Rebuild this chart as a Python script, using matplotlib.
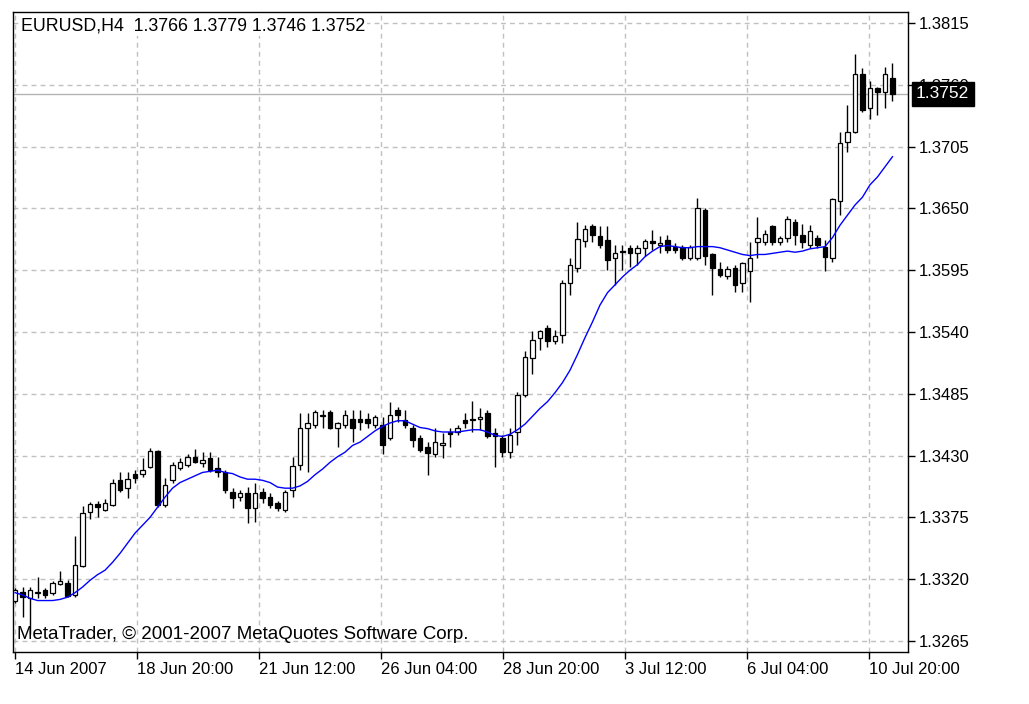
import numpy as np
import matplotlib
matplotlib.use("Agg")
import matplotlib.pyplot as plt

plt.rcParams["font.family"] = ["Liberation Sans", "DejaVu Sans"]

symbol = "EURUSD,H4"

open_ = [1.3301, 1.3309, 1.3303, 1.3308, 1.3310, 1.3308, 1.3316, 1.3317, 1.3306, 1.3332,
         1.3380, 1.3387, 1.3382, 1.3386, 1.3408, 1.3401, 1.3414, 1.3414, 1.3420, 1.3434,
         1.3386, 1.3408, 1.3419, 1.3422, 1.3429, 1.3423, 1.3428, 1.3419, 1.3415, 1.3398,
         1.3393, 1.3397, 1.3383, 1.3398, 1.3393, 1.3388, 1.3382, 1.3399, 1.3422, 1.3455,
         1.3457, 1.3465, 1.3469, 1.3455, 1.3457, 1.3463, 1.3463, 1.3463, 1.3457, 1.3457,
         1.3446, 1.3471, 1.3462, 1.3455, 1.3446, 1.3438, 1.3431, 1.3439, 1.3451, 1.3451,
         1.3462, 1.3462, 1.3463, 1.3468, 1.3450, 1.3446, 1.3433, 1.3451, 1.3484, 1.3517,
         1.3535, 1.3544, 1.3532, 1.3537, 1.3584, 1.3597, 1.3621, 1.3634, 1.3625, 1.3622,
         1.3606, 1.3611, 1.3615, 1.3610, 1.3615, 1.3621, 1.3617, 1.3622, 1.3616, 1.3616,
         1.3606, 1.3606, 1.3649, 1.3609, 1.3596, 1.3590, 1.3597, 1.3584, 1.3594, 1.3620,
         1.3620, 1.3634, 1.3620, 1.3624, 1.3638, 1.3626, 1.3617, 1.3624, 1.3616, 1.3606,
         1.3657, 1.3709, 1.3718, 1.3770, 1.3739, 1.3757, 1.3754, 1.3766]

high = [1.3312, 1.3313, 1.3313, 1.3322, 1.3312, 1.3318, 1.3327, 1.3319, 1.3358, 1.3385,
        1.3389, 1.3390, 1.3391, 1.3409, 1.3415, 1.3415, 1.3417, 1.3428, 1.3437, 1.3435,
        1.3410, 1.3424, 1.3428, 1.3431, 1.3436, 1.3433, 1.3433, 1.3429, 1.3417, 1.3401,
        1.3399, 1.3402, 1.3406, 1.3401, 1.3397, 1.3390, 1.3399, 1.3429, 1.3468, 1.3468,
        1.3471, 1.3471, 1.3471, 1.3460, 1.3471, 1.3471, 1.3471, 1.3468, 1.3466, 1.3464,
        1.3478, 1.3473, 1.3471, 1.3457, 1.3448, 1.3442, 1.3455, 1.3450, 1.3455, 1.3457,
        1.3468, 1.3479, 1.3472, 1.3471, 1.3455, 1.3448, 1.3455, 1.3487, 1.3523, 1.3541,
        1.3542, 1.3546, 1.3542, 1.3586, 1.3606, 1.3638, 1.3635, 1.3636, 1.3634, 1.3634,
        1.3617, 1.3617, 1.3617, 1.3617, 1.3623, 1.3631, 1.3625, 1.3626, 1.3619, 1.3617,
        1.3617, 1.3659, 1.3650, 1.3610, 1.3602, 1.3599, 1.3600, 1.3602, 1.3620, 1.3642,
        1.3631, 1.3635, 1.3625, 1.3643, 1.3641, 1.3636, 1.3635, 1.3626, 1.3622, 1.3659,
        1.3718, 1.3742, 1.3787, 1.3775, 1.3763, 1.3758, 1.3776, 1.3779]

low = [1.3299, 1.3286, 1.3271, 1.3303, 1.3303, 1.3306, 1.3315, 1.3304, 1.3304, 1.3331,
       1.3374, 1.3375, 1.3381, 1.3385, 1.3398, 1.3392, 1.3406, 1.3411, 1.3419, 1.3384,
       1.3384, 1.3406, 1.3417, 1.3420, 1.3423, 1.3420, 1.3415, 1.3411, 1.3397, 1.3383,
       1.3390, 1.3370, 1.3371, 1.3388, 1.3383, 1.3381, 1.3380, 1.3393, 1.3417, 1.3415,
       1.3455, 1.3455, 1.3454, 1.3438, 1.3455, 1.3442, 1.3453, 1.3455, 1.3455, 1.3431,
       1.3444, 1.3460, 1.3455, 1.3438, 1.3433, 1.3413, 1.3429, 1.3428, 1.3438, 1.3448,
       1.3455, 1.3451, 1.3453, 1.3446, 1.3420, 1.3429, 1.3428, 1.3439, 1.3482, 1.3503,
       1.3524, 1.3527, 1.3529, 1.3530, 1.3573, 1.3593, 1.3616, 1.3620, 1.3615, 1.3595,
       1.3582, 1.3595, 1.3598, 1.3600, 1.3608, 1.3613, 1.3610, 1.3610, 1.3610, 1.3604,
       1.3604, 1.3604, 1.3600, 1.3573, 1.3589, 1.3587, 1.3576, 1.3576, 1.3567, 1.3606,
       1.3617, 1.3617, 1.3617, 1.3620, 1.3617, 1.3615, 1.3615, 1.3615, 1.3594, 1.3602,
       1.3644, 1.3700, 1.3717, 1.3736, 1.3730, 1.3733, 1.3739, 1.3746]

close = [1.3310, 1.3304, 1.3310, 1.3309, 1.3306, 1.3317, 1.3318, 1.3305, 1.3333, 1.3379,
         1.3387, 1.3384, 1.3388, 1.3406, 1.3399, 1.3409, 1.3410, 1.3417, 1.3434, 1.3386,
         1.3404, 1.3422, 1.3424, 1.3429, 1.3424, 1.3426, 1.3417, 1.3415, 1.3399, 1.3392,
         1.3397, 1.3383, 1.3397, 1.3392, 1.3386, 1.3383, 1.3398, 1.3421, 1.3455, 1.3459,
         1.3469, 1.3466, 1.3455, 1.3459, 1.3466, 1.3455, 1.3460, 1.3459, 1.3464, 1.3439,
         1.3466, 1.3466, 1.3457, 1.3444, 1.3435, 1.3432, 1.3442, 1.3441, 1.3449, 1.3455,
         1.3459, 1.3463, 1.3464, 1.3447, 1.3447, 1.3433, 1.3448, 1.3484, 1.3518, 1.3533,
         1.3541, 1.3532, 1.3536, 1.3584, 1.3600, 1.3623, 1.3632, 1.3626, 1.3617, 1.3604,
         1.3610, 1.3612, 1.3610, 1.3615, 1.3621, 1.3619, 1.3619, 1.3613, 1.3613, 1.3606,
         1.3616, 1.3650, 1.3608, 1.3597, 1.3591, 1.3596, 1.3582, 1.3601, 1.3606, 1.3624,
         1.3627, 1.3620, 1.3624, 1.3641, 1.3626, 1.3620, 1.3630, 1.3617, 1.3607, 1.3658,
         1.3708, 1.3718, 1.3770, 1.3738, 1.3757, 1.3754, 1.3770, 1.3752]

ma = [1.3308, 1.3306, 1.3303, 1.3301, 1.3301, 1.3301, 1.3302, 1.3304, 1.3308, 1.3313,
      1.3319, 1.3324, 1.3328, 1.3335, 1.3343, 1.3352, 1.3361, 1.3368, 1.3375, 1.3384,
      1.3393, 1.3401, 1.3406, 1.3409, 1.3412, 1.3415, 1.3416, 1.3417, 1.3415, 1.3414,
      1.3411, 1.3409, 1.3409, 1.3408, 1.3406, 1.3402, 1.3401, 1.3401, 1.3403, 1.3407,
      1.3413, 1.3418, 1.3424, 1.3429, 1.3433, 1.3439, 1.3442, 1.3447, 1.3452, 1.3456,
      1.3459, 1.3461, 1.3461, 1.3458, 1.3455, 1.3454, 1.3452, 1.3451, 1.3451, 1.3451,
      1.3452, 1.3453, 1.3453, 1.3451, 1.3448, 1.3447, 1.3449, 1.3453, 1.3458, 1.3465,
      1.3472, 1.3478, 1.3486, 1.3495, 1.3506, 1.3520, 1.3535, 1.3549, 1.3564, 1.3575,
      1.3582, 1.3589, 1.3595, 1.3600, 1.3607, 1.3612, 1.3616, 1.3617, 1.3616, 1.3615,
      1.3615, 1.3616, 1.3616, 1.3616, 1.3615, 1.3613, 1.3611, 1.3609, 1.3608, 1.3609,
      1.3609, 1.3610, 1.3611, 1.3612, 1.3611, 1.3612, 1.3614, 1.3615, 1.3616, 1.3624,
      1.3635, 1.3644, 1.3653, 1.3660, 1.3671, 1.3678, 1.3687, 1.3696]

time_labels = ["14 Jun 2007", "18 Jun 20:00", "21 Jun 12:00", "26 Jun 04:00",
               "28 Jun 20:00", "3 Jul 12:00", "6 Jul 04:00", "10 Jul 20:00"]
price_ticks = [1.3265, 1.3320, 1.3375, 1.3430, 1.3485, 1.3540,
               1.3595, 1.3650, 1.3705, 1.3760, 1.3815]


def main():
    o = np.array(open_)
    h = np.array(high)
    l = np.array(low)
    c = np.array(close)
    x = np.arange(len(c))
    up = c >= o

    fig = plt.figure(figsize=(10.29, 7.04), dpi=100)
    ax = fig.add_axes([13 / 1029, 52 / 704, 895 / 1029, 640 / 704])

    # grid + last price line
    ax.set_axisbelow(True)
    ax.grid(True, color="#c0c0c0", linestyle=(0, (3.5, 3)), linewidth=1)
    ax.axhline(c[-1], color="#b4b4b4", linewidth=1, zorder=1)

    # candles
    ax.vlines(x, l, h, color="black", linewidth=1, zorder=2)
    ax.bar(x, np.abs(c - o), bottom=np.minimum(o, c), width=0.62,
           color=np.where(up, "white", "black"), edgecolor="black",
           linewidth=0.9, zorder=3)

    ax.plot(x, ma, color="#0000ff", linewidth=1, zorder=4)

    ax.set_xlim(-0.27, 119.07)
    ax.set_ylim(1.32552, 1.38248)

    ax.yaxis.tick_right()
    ax.set_yticks(price_ticks)
    ax.set_yticklabels([f"{p:.4f}" for p in price_ticks])
    ax.set_xticks(np.arange(len(time_labels)) * 16.27)
    ax.set_xticklabels(time_labels, ha="left")
    ax.tick_params(axis="both", direction="out", length=5, width=1,
                   labelsize=12, colors="black")
    ax.tick_params(axis="y", pad=3)
    ax.tick_params(axis="x", pad=2)
    for s in ax.spines.values():
        s.set_color("black")
        s.set_linewidth(1)

    ax.text(0.009, 0.978,
            f"{symbol}  {o[-1]:.4f} {h[-1]:.4f} {l[-1]:.4f} {c[-1]:.4f}",
            transform=ax.transAxes, fontsize=12.8, va="center", ha="left",
            bbox=dict(facecolor="white", edgecolor="none", pad=1), zorder=6)
    ax.text(0.005, 0.027, "MetaTrader, \u00a9 2001-2007 MetaQuotes Software Corp.",
            transform=ax.transAxes, fontsize=13.5, va="center", ha="left", zorder=6)

    # current price marker on the right scale
    ax.text(1.0 + 8 / 895, c[-1], f"{c[-1]:.4f}", transform=ax.get_yaxis_transform(),
            color="white", fontsize=12.5, va="center", ha="left", clip_on=False,
            bbox=dict(boxstyle="square,pad=0.25", facecolor="black", edgecolor="black"),
            zorder=10)

    fig.savefig("out.png", dpi=100, facecolor="white")
    plt.close(fig)


if __name__ == "__main__":
    main()
